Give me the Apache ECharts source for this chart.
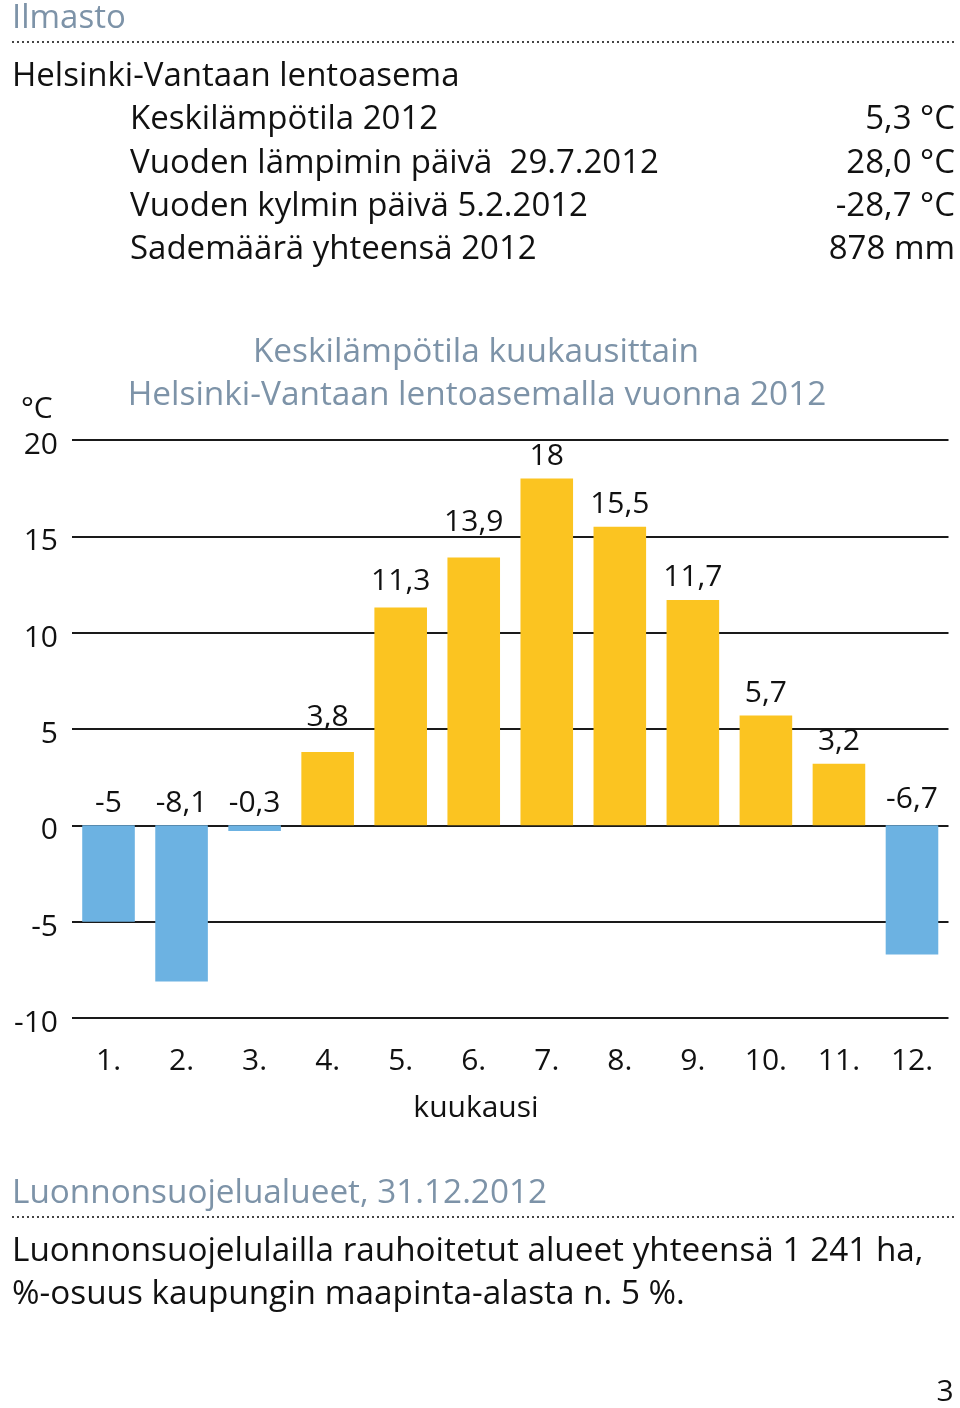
<!DOCTYPE html>
<html><head><meta charset="utf-8">
<script src="https://cdn.jsdelivr.net/npm/echarts@6/dist/echarts.min.js"></script>
<style>html,body{margin:0;padding:0;background:#fff}#c{width:960px;height:1408px}</style>
</head><body><div id="c"></div>
<script>
// ---- data ----
const months = ['1.','2.','3.','4.','5.','6.','7.','8.','9.','10.','11.','12.'];
const temps = [-5, -8.1, -0.3, 3.8, 11.3, 13.9, 18, 15.5, 11.7, 5.7, 3.2, -6.7];
const yMin = -10, yMax = 20, yStep = 5;
const infoLabels = ['Keskilämpötila 2012', 'Vuoden lämpimin päivä  29.7.2012', 'Vuoden kylmin päivä 5.2.2012', 'Sademäärä yhteensä 2012'];
const infoValues = ['5,3 °C', '28,0 °C', '-28,7 °C', '878 mm'];
const chartTitle = ['Keskilämpötila kuukausittain', 'Helsinki-Vantaan lentoasemalla vuonna 2012'];
const bodyLines = ['Luonnonsuojelulailla rauhoitetut alueet yhteensä 1 241 ha,', '%-osuus kaupungin maapinta-alasta n. 5 %.'];

// label placement tweaks (styling only): extra lift for labels that would hit a gridline
const labelLift = { 3: 13, 4: 4, 5: 13, 11: 4 };

const FONT = '"Open Sans", "Noto Sans", sans-serif';
const HEAD = '#7d93a8';
const TXT = '#111';
const fmt = v => String(v).replace('.', ',');

function txt(x, y, text, size, color, align) {
  return { type: 'text', x: x, y: y, silent: true,
    style: { text: text, fill: color, font: size + 'px ' + FONT,
      align: align || 'left', verticalAlign: 'middle',
      textAlign: align || 'left', textVerticalAlign: 'middle' } };
}
function dots(y) {
  return { type: 'line', silent: true, shape: { x1: 12, y1: y, x2: 955, y2: y },
    style: { stroke: '#444', lineWidth: 2, lineDash: [2, 3] } };
}

const graphics = [
  txt(12, 19, 'Ilmasto', 33, HEAD),
  dots(42),
  txt(12, 77, 'Helsinki-Vantaan lentoasema', 33, TXT)
];
infoLabels.forEach((l, i) => {
  graphics.push(txt(130, 120 + i * 43.3, l, 33, TXT));
  graphics.push(txt(955, 120 + i * 43.3, infoValues[i], 33, TXT, 'right'));
});
graphics.push(txt(476, 352, chartTitle[0], 33.4, HEAD, 'center'));
graphics.push(txt(477, 395, chartTitle[1], 33.4, HEAD, 'center'));
graphics.push(txt(21, 409, '°C', 30, TXT));
graphics.push(txt(476, 1108, 'kuukausi', 30, TXT, 'center'));
graphics.push(txt(12, 1194, 'Luonnonsuojelualueet, 31.12.2012', 33.3, HEAD));
graphics.push(dots(1217));
graphics.push(txt(12, 1252, bodyLines[0], 33.3, TXT));
graphics.push(txt(12, 1295, bodyLines[1], 33.3, TXT));
graphics.push(txt(945, 1392, '3', 30, TXT, 'center'));

const barData = temps.map((v, i) => labelLift[i]
  ? { value: v, label: { distance: 7 + labelLift[i] } }
  : v);

const chart = echarts.init(document.getElementById('c'), null, { renderer: 'canvas' });
chart.setOption({
  animation: false,
  backgroundColor: '#fff',
  grid: { left: 72, right: 11.5, top: 440, bottom: 390, containLabel: false },
  xAxis: {
    type: 'category', data: months,
    axisLine: { show: false }, axisTick: { show: false },
    axisLabel: { color: TXT, fontSize: 30, fontFamily: FONT, margin: 28 }
  },
  yAxis: {
    type: 'value', min: yMin, max: yMax, interval: yStep,
    axisLine: { show: false }, axisTick: { show: false },
    axisLabel: { color: TXT, fontSize: 30, fontFamily: FONT, margin: 14,
      formatter: v => '{a|' + v + '}',
      rich: { a: { color: TXT, fontSize: 30, fontFamily: FONT, padding: [11, 0, 0, 0] } } },
    splitLine: { lineStyle: { color: '#1a1a1a', width: 2 } }
  },
  series: [{
    type: 'bar', data: barData, barWidth: '72%',
    itemStyle: { color: p => p.value < 0 ? '#6cb2e2' : '#fbc421' },
    label: { show: true, position: 'top', distance: 7, color: TXT, fontSize: 30,
      fontFamily: FONT, formatter: p => fmt(p.value) }
  }],
  graphic: graphics
});
</script></body></html>
